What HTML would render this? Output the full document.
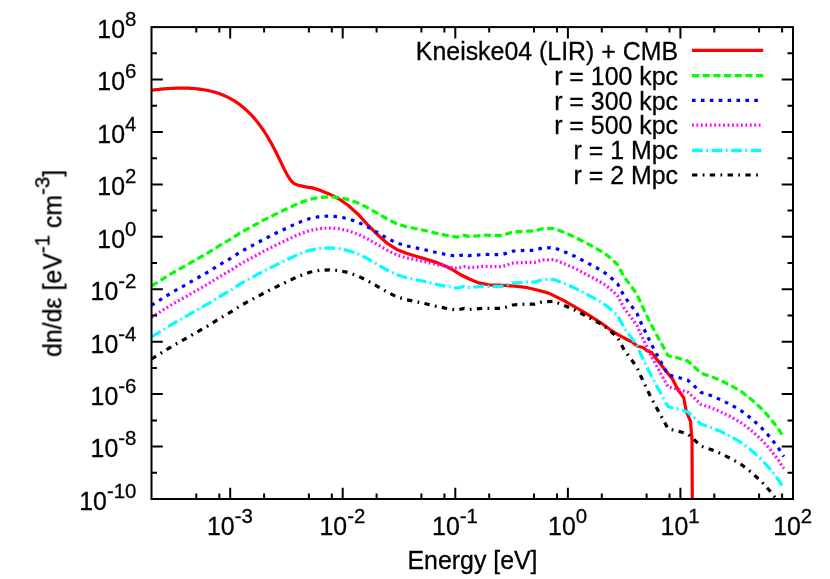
<!DOCTYPE html>
<html><head><meta charset="utf-8"><title>EBL photon density</title>
<style>html,body{margin:0;padding:0;background:#fff;}body{width:830px;height:579px;overflow:hidden;position:relative;font-family:"Liberation Sans",sans-serif;}</style>
</head><body>
<svg width="830" height="579" viewBox="0 0 830 579" style="position:absolute;left:0;top:0">
<rect width="830" height="579" fill="#fff"/>
<defs><clipPath id="cp"><rect x="151.5" y="27.1" width="641.5" height="471.9"/></clipPath></defs>
<g clip-path="url(#cp)" fill="none" stroke-linejoin="round">
<path d="M151.5 90.2 L153.0 90.0 L154.5 89.8 L156.0 89.7 L157.5 89.5 L159.0 89.4 L160.5 89.2 L162.0 89.1 L163.5 88.9 L165.0 88.8 L166.5 88.7 L168.0 88.6 L169.5 88.5 L171.0 88.4 L172.5 88.3 L174.0 88.3 L175.5 88.2 L177.0 88.2 L178.5 88.1 L180.0 88.1 L181.5 88.1 L183.0 88.1 L184.5 88.1 L186.0 88.2 L187.5 88.2 L189.0 88.2 L190.5 88.3 L192.0 88.4 L193.5 88.5 L195.0 88.6 L196.5 88.8 L198.0 88.9 L199.5 89.1 L201.0 89.3 L202.5 89.5 L204.0 89.8 L205.5 90.0 L207.0 90.3 L208.5 90.6 L210.0 91.0 L211.5 91.3 L213.0 91.7 L214.5 92.1 L216.0 92.6 L217.5 93.0 L219.0 93.6 L220.5 94.1 L222.0 94.7 L223.5 95.3 L225.0 95.9 L226.5 96.6 L228.0 97.4 L229.5 98.1 L231.0 98.9 L232.5 99.8 L234.0 100.7 L235.5 101.6 L237.0 102.6 L238.5 103.7 L240.0 104.8 L241.5 106.0 L243.0 107.2 L244.5 108.4 L246.0 109.8 L247.5 111.2 L249.0 112.6 L250.5 114.2 L252.0 115.7 L253.5 117.4 L255.0 119.1 L256.5 121.0 L258.0 122.8 L259.5 124.8 L261.0 126.9 L262.5 129.0 L264.0 131.2 L265.5 133.5 L267.0 135.9 L268.5 138.4 L270.0 141.0 L271.5 143.6 L273.0 146.4 L274.5 149.2 L276.0 152.2 L277.5 155.2 L279.0 158.2 L280.5 161.4 L282.0 164.5 L283.5 167.6 L285.0 170.6 L286.5 173.5 L288.0 176.2 L289.5 178.5 L291.0 180.5 L292.5 182.2 L294.0 183.4 L295.5 184.2 L297.0 184.7 L298.5 185.2 L305.3 186.9 L312.6 187.9 L319.3 190.0 L329.0 193.9 L338.7 198.7 L348.4 205.5 L358.0 214.2 L367.7 224.8 L377.4 234.5 L387.1 243.2 L396.7 249.4 L406.4 253.2 L416.1 256.3 L425.8 259.1 L435.4 262.1 L445.1 266.0 L452.0 269.3 L459.7 274.2 L469.3 279.0 L479.0 282.9 L488.7 284.8 L498.4 285.2 L508.0 285.6 L517.7 286.3 L527.4 287.7 L537.1 290.0 L548.7 293.1 L557.4 297.4 L566.1 301.8 L574.8 306.8 L583.5 311.9 L592.2 317.4 L600.9 322.8 L609.6 329.3 L618.4 334.8 L627.1 339.5 L632.9 342.4 L637.2 346.0 L643.0 347.5 L647.4 351.1 L651.7 352.6 L656.1 358.4 L660.0 363.2 L665.1 370.0 L671.9 378.1 L678.6 390.8 L683.7 397.6 L686.2 411.1 L690.5 421.3 L692.0 440.0 L692.3 499.0" stroke="#ff0000" stroke-width="3.2"/>
<path d="M151.5 286.0 L173.2 272.5 L184.8 266.1 L196.4 259.4 L208.0 252.8 L219.6 245.5 L231.3 238.7 L241.9 231.9 L253.5 225.7 L264.1 219.9 L275.7 214.1 L286.4 209.0 L298.0 203.5 L309.7 199.3 L319.3 197.4 L329.0 196.8 L338.7 197.5 L348.4 199.6 L358.0 203.0 L367.7 207.8 L377.4 213.3 L387.1 219.0 L396.7 223.8 L406.4 226.7 L416.1 228.7 L425.8 230.8 L435.4 233.1 L445.1 235.1 L457.0 237.1 L464.2 235.4 L469.0 236.4 L476.3 236.0 L483.5 235.2 L493.2 235.4 L501.7 235.4 L505.9 234.2 L512.6 232.0 L524.6 231.2 L534.3 231.2 L542.4 228.7 L553.9 228.4 L565.4 233.0 L575.1 237.2 L584.7 242.3 L594.4 247.4 L602.9 252.2 L608.3 256.2 L612.6 260.0 L617.5 264.5 L624.2 277.0 L630.2 285.1 L636.9 294.1 L641.1 303.8 L645.7 313.3 L650.6 323.6 L655.4 332.6 L661.4 343.5 L666.3 352.6 L668.2 355.8 L677.0 357.8 L687.5 360.8 L693.8 366.3 L700.6 373.0 L710.8 376.4 L720.9 380.6 L731.1 385.7 L741.3 391.6 L751.4 399.4 L761.6 408.7 L770.0 418.0 L778.5 429.0 L783.8 437.5" stroke="#00ff00" stroke-width="3.2" stroke-dasharray="7.12 3.56"/>
<path d="M151.5 305.2 L173.2 291.7 L184.8 285.3 L196.4 278.6 L208.0 272.0 L219.6 264.7 L231.3 257.9 L241.9 251.1 L253.5 244.9 L264.1 239.1 L275.7 233.3 L286.4 228.2 L298.0 222.7 L309.7 218.5 L319.3 216.6 L329.0 216.0 L338.7 216.7 L348.4 218.8 L358.0 222.2 L367.7 227.0 L377.4 232.5 L387.1 238.2 L396.7 243.0 L406.4 245.9 L416.1 247.9 L425.8 250.0 L435.4 252.3 L445.1 254.3 L457.0 256.3 L464.2 254.6 L469.0 255.6 L476.3 255.2 L483.5 254.4 L493.2 254.6 L501.7 254.6 L505.9 253.4 L512.6 251.2 L524.6 250.4 L534.3 250.4 L542.4 247.9 L553.9 247.6 L565.4 252.2 L575.1 256.4 L584.7 261.5 L594.4 266.6 L602.9 271.4 L608.3 275.4 L612.6 279.2 L617.5 283.7 L624.2 296.2 L630.2 304.3 L636.9 313.3 L641.1 323.0 L645.7 332.5 L650.6 342.8 L655.4 351.8 L661.4 362.7 L666.3 371.8 L668.2 375.0 L677.0 377.0 L687.5 380.0 L693.8 385.5 L700.6 392.2 L710.8 395.6 L720.9 399.8 L731.1 404.9 L741.3 410.8 L751.4 418.6 L761.6 427.9 L770.0 437.2 L778.5 448.2 L783.8 456.7" stroke="#0000ff" stroke-width="3.2" stroke-dasharray="3.56 5.34"/>
<path d="M151.5 317.2 L173.2 303.7 L184.8 297.3 L196.4 290.6 L208.0 284.0 L219.6 276.7 L231.3 269.9 L241.9 263.1 L253.5 256.9 L264.1 251.1 L275.7 245.3 L286.4 240.2 L298.0 234.7 L309.7 230.5 L319.3 228.6 L329.0 228.0 L338.7 228.7 L348.4 230.8 L358.0 234.2 L367.7 239.0 L377.4 244.5 L387.1 250.2 L396.7 255.0 L406.4 257.9 L416.1 259.9 L425.8 262.0 L435.4 264.3 L445.1 266.3 L457.0 268.3 L464.2 266.6 L469.0 267.6 L476.3 267.2 L483.5 266.4 L493.2 266.6 L501.7 266.6 L505.9 265.4 L512.6 263.2 L524.6 262.4 L534.3 262.4 L542.4 259.9 L553.9 259.6 L565.4 264.2 L575.1 268.4 L584.7 273.5 L594.4 278.6 L602.9 283.4 L608.3 287.4 L612.6 291.2 L617.5 295.7 L624.2 308.2 L630.2 316.3 L636.9 325.3 L641.1 335.0 L645.7 344.5 L650.6 354.8 L655.4 363.8 L661.4 374.7 L666.3 383.8 L668.2 387.0 L677.0 389.0 L687.5 392.0 L693.8 397.5 L700.6 404.2 L710.8 407.6 L720.9 411.8 L731.1 416.9 L741.3 422.8 L751.4 430.6 L761.6 439.9 L770.0 449.2 L778.5 460.2 L783.8 468.7" stroke="#ff00ff" stroke-width="3.2" stroke-dasharray="1.78 2.67"/>
<path d="M151.5 337.0 L173.2 323.5 L184.8 317.1 L196.4 310.4 L208.0 303.8 L219.6 296.5 L231.3 289.7 L241.9 282.9 L253.5 276.7 L264.1 270.9 L275.7 265.1 L286.4 260.0 L298.0 254.5 L309.7 250.3 L319.3 248.4 L329.0 247.8 L338.7 248.5 L348.4 250.6 L358.0 254.0 L367.7 258.8 L377.4 264.3 L387.1 270.0 L396.7 274.8 L406.4 277.7 L416.1 279.7 L425.8 281.8 L435.4 284.1 L445.1 286.1 L457.0 288.1 L464.2 286.4 L469.0 287.4 L476.3 287.0 L483.5 286.2 L493.2 286.4 L501.7 286.4 L505.9 285.2 L512.6 283.0 L524.6 282.2 L534.3 282.2 L542.4 279.7 L553.9 279.4 L565.4 284.0 L575.1 288.2 L584.7 293.3 L594.4 298.4 L602.9 303.2 L608.3 307.2 L612.6 311.0 L617.5 315.5 L624.2 328.0 L630.2 336.1 L636.9 345.1 L641.1 354.8 L645.7 364.3 L650.6 374.6 L655.4 383.6 L661.4 394.5 L666.3 403.6 L668.2 406.8 L677.0 408.8 L687.5 411.8 L693.8 417.3 L700.6 424.0 L710.8 427.4 L720.9 431.6 L731.1 436.7 L741.3 442.6 L751.4 450.4 L761.6 459.7 L770.0 469.0 L778.5 480.0 L783.8 488.5" stroke="#00ffff" stroke-width="3.2" stroke-dasharray="10.68 3.56 1.78 3.56"/>
<path d="M151.5 359.0 L173.2 345.5 L184.8 339.1 L196.4 332.4 L208.0 325.8 L219.6 318.5 L231.3 311.7 L241.9 304.9 L253.5 298.7 L264.1 292.9 L275.7 287.1 L286.4 282.0 L298.0 276.5 L309.7 272.3 L319.3 270.4 L329.0 269.8 L338.7 270.5 L348.4 272.6 L358.0 276.0 L367.7 280.8 L377.4 286.3 L387.1 292.0 L396.7 296.8 L406.4 299.7 L416.1 301.7 L425.8 303.8 L435.4 306.1 L445.1 308.1 L457.0 310.1 L464.2 308.4 L469.0 309.4 L476.3 309.0 L483.5 308.2 L493.2 308.4 L501.7 308.4 L505.9 307.2 L512.6 305.0 L524.6 304.2 L534.3 304.2 L542.4 301.7 L553.9 301.4 L565.4 306.0 L575.1 310.2 L584.7 315.3 L594.4 320.4 L602.9 325.2 L608.3 329.2 L612.6 333.0 L617.5 337.5 L624.2 350.0 L630.2 358.1 L636.9 367.1 L641.1 376.8 L645.7 386.3 L650.6 396.6 L655.4 405.6 L661.4 416.5 L666.3 425.6 L668.2 428.8 L677.0 430.8 L687.5 433.8 L693.8 439.3 L700.6 446.0 L710.8 449.4 L720.9 453.6 L731.1 458.7 L741.3 464.6 L751.4 472.4 L761.6 481.7 L770.0 491.0 L778.5 502.0 L783.8 510.5" stroke="#000000" stroke-width="3.2" stroke-dasharray="5.34 5.34 1.78 5.34"/>
</g>
<path d="M151.5 472.8 h5.5 M793.0 472.8 h-5.5 M151.5 446.6 h11.3 M793.0 446.6 h-11.3 M151.5 420.4 h5.5 M793.0 420.4 h-5.5 M151.5 394.1 h11.3 M793.0 394.1 h-11.3 M151.5 367.9 h5.5 M793.0 367.9 h-5.5 M151.5 341.7 h11.3 M793.0 341.7 h-11.3 M151.5 315.5 h5.5 M793.0 315.5 h-5.5 M151.5 289.3 h11.3 M793.0 289.3 h-11.3 M151.5 263.1 h5.5 M793.0 263.1 h-5.5 M151.5 236.8 h11.3 M793.0 236.8 h-11.3 M151.5 210.6 h5.5 M793.0 210.6 h-5.5 M151.5 184.4 h11.3 M793.0 184.4 h-11.3 M151.5 158.2 h5.5 M793.0 158.2 h-5.5 M151.5 132.0 h11.3 M793.0 132.0 h-11.3 M151.5 105.8 h5.5 M793.0 105.8 h-5.5 M151.5 79.5 h11.3 M793.0 79.5 h-11.3 M151.5 53.3 h5.5 M793.0 53.3 h-5.5 M196.3 499.0 v-5.5 M196.3 27.1 v5.5 M219.3 499.0 v-5.5 M219.3 27.1 v5.5 M230.2 499.0 v-11.3 M230.2 27.1 v11.3 M264.1 499.0 v-5.5 M264.1 27.1 v5.5 M308.9 499.0 v-5.5 M308.9 27.1 v5.5 M331.8 499.0 v-5.5 M331.8 27.1 v5.5 M342.7 499.0 v-11.3 M342.7 27.1 v11.3 M376.6 499.0 v-5.5 M376.6 27.1 v5.5 M421.4 499.0 v-5.5 M421.4 27.1 v5.5 M444.4 499.0 v-5.5 M444.4 27.1 v5.5 M455.3 499.0 v-11.3 M455.3 27.1 v11.3 M489.2 499.0 v-5.5 M489.2 27.1 v5.5 M534.0 499.0 v-5.5 M534.0 27.1 v5.5 M557.0 499.0 v-5.5 M557.0 27.1 v5.5 M567.9 499.0 v-11.3 M567.9 27.1 v11.3 M601.8 499.0 v-5.5 M601.8 27.1 v5.5 M646.6 499.0 v-5.5 M646.6 27.1 v5.5 M669.5 499.0 v-5.5 M669.5 27.1 v5.5 M680.4 499.0 v-11.3 M680.4 27.1 v11.3 M714.3 499.0 v-5.5 M714.3 27.1 v5.5 M759.1 499.0 v-5.5 M759.1 27.1 v5.5 M782.1 499.0 v-5.5 M782.1 27.1 v5.5" stroke="#000" stroke-width="2" fill="none"/>
<rect x="151.5" y="27.1" width="641.5" height="471.9" fill="none" stroke="#000" stroke-width="2"/>
<path d="M692 50.4 H763.15" stroke="#ff0000" stroke-width="3.2" fill="none"/>
<path d="M692 75.6 H763.15" stroke="#00ff00" stroke-width="3.2" fill="none" stroke-dasharray="7.12 3.56"/>
<path d="M692 100.4 H763.15" stroke="#0000ff" stroke-width="3.2" fill="none" stroke-dasharray="3.56 5.34"/>
<path d="M692 125.1 H763.15" stroke="#ff00ff" stroke-width="3.2" fill="none" stroke-dasharray="1.78 2.67"/>
<path d="M692 150.3 H763.15" stroke="#00ffff" stroke-width="3.2" fill="none" stroke-dasharray="10.68 3.56 1.78 3.56"/>
<path d="M692 175.0 H763.15" stroke="#000000" stroke-width="3.2" fill="none" stroke-dasharray="5.34 5.34 1.78 5.34"/>
<g style="font-family:&quot;Liberation Sans&quot;,sans-serif;opacity:0.999" fill="#000" stroke="#000" stroke-width="0.3">
<text transform="translate(678.00,59.55) scale(1,1.0250)" font-size="24.90" text-anchor="end">Kneiske04 (LIR) + CMB</text>
<text transform="translate(678.00,84.75) scale(1,1.0250)" font-size="24.90" text-anchor="end">r = 100 kpc</text>
<text transform="translate(678.00,109.55) scale(1,1.0250)" font-size="24.90" text-anchor="end">r = 300 kpc</text>
<text transform="translate(678.00,134.25) scale(1,1.0250)" font-size="24.90" text-anchor="end">r = 500 kpc</text>
<text transform="translate(678.00,159.45) scale(1,1.0250)" font-size="24.90" text-anchor="end">r = 1 Mpc</text>
<text transform="translate(678.00,184.15) scale(1,1.0250)" font-size="24.90" text-anchor="end">r = 2 Mpc</text>
<text transform="translate(136.40,509.80) scale(1,1.0250)" font-size="24.90" text-anchor="end">10<tspan font-size="20.42" dy="-11.61">-10</tspan></text>
<text transform="translate(136.40,457.37) scale(1,1.0250)" font-size="24.90" text-anchor="end">10<tspan font-size="20.42" dy="-11.61">-8</tspan></text>
<text transform="translate(136.40,404.93) scale(1,1.0250)" font-size="24.90" text-anchor="end">10<tspan font-size="20.42" dy="-11.61">-6</tspan></text>
<text transform="translate(136.40,352.50) scale(1,1.0250)" font-size="24.90" text-anchor="end">10<tspan font-size="20.42" dy="-11.61">-4</tspan></text>
<text transform="translate(136.40,300.07) scale(1,1.0250)" font-size="24.90" text-anchor="end">10<tspan font-size="20.42" dy="-11.61">-2</tspan></text>
<text transform="translate(136.40,247.63) scale(1,1.0250)" font-size="24.90" text-anchor="end">10<tspan font-size="20.42" dy="-11.61">0</tspan></text>
<text transform="translate(136.40,195.20) scale(1,1.0250)" font-size="24.90" text-anchor="end">10<tspan font-size="20.42" dy="-11.61">2</tspan></text>
<text transform="translate(136.40,142.77) scale(1,1.0250)" font-size="24.90" text-anchor="end">10<tspan font-size="20.42" dy="-11.61">4</tspan></text>
<text transform="translate(136.40,90.33) scale(1,1.0250)" font-size="24.90" text-anchor="end">10<tspan font-size="20.42" dy="-11.61">6</tspan></text>
<text transform="translate(136.40,37.90) scale(1,1.0250)" font-size="24.90" text-anchor="end">10<tspan font-size="20.42" dy="-11.61">8</tspan></text>
<text transform="translate(229.88,535.00) scale(1,1.0250)" font-size="24.90" text-anchor="middle">10<tspan font-size="20.42" dy="-11.61">-3</tspan></text>
<text transform="translate(342.44,535.00) scale(1,1.0250)" font-size="24.90" text-anchor="middle">10<tspan font-size="20.42" dy="-11.61">-2</tspan></text>
<text transform="translate(455.01,535.00) scale(1,1.0250)" font-size="24.90" text-anchor="middle">10<tspan font-size="20.42" dy="-11.61">-1</tspan></text>
<text transform="translate(567.57,535.00) scale(1,1.0250)" font-size="24.90" text-anchor="middle">10<tspan font-size="20.42" dy="-11.61">0</tspan></text>
<text transform="translate(680.14,535.00) scale(1,1.0250)" font-size="24.90" text-anchor="middle">10<tspan font-size="20.42" dy="-11.61">1</tspan></text>
<text transform="translate(792.70,535.00) scale(1,1.0250)" font-size="24.90" text-anchor="middle">10<tspan font-size="20.42" dy="-11.61">2</tspan></text>
<text transform="translate(472.50,569.30) scale(1,1.0250)" font-size="24.90" text-anchor="middle">Energy [eV]</text>
<text transform="translate(61.10,263.40) rotate(-90) scale(1,1.0250)" font-size="24.90" text-anchor="middle">dn/dε [eV<tspan font-size="20.42" dy="-11.61">-1</tspan><tspan dy="11.61"> cm</tspan><tspan font-size="20.42" dy="-11.61">-3</tspan><tspan dy="11.61">]</tspan></text>
</g>
</svg>
</body></html>
